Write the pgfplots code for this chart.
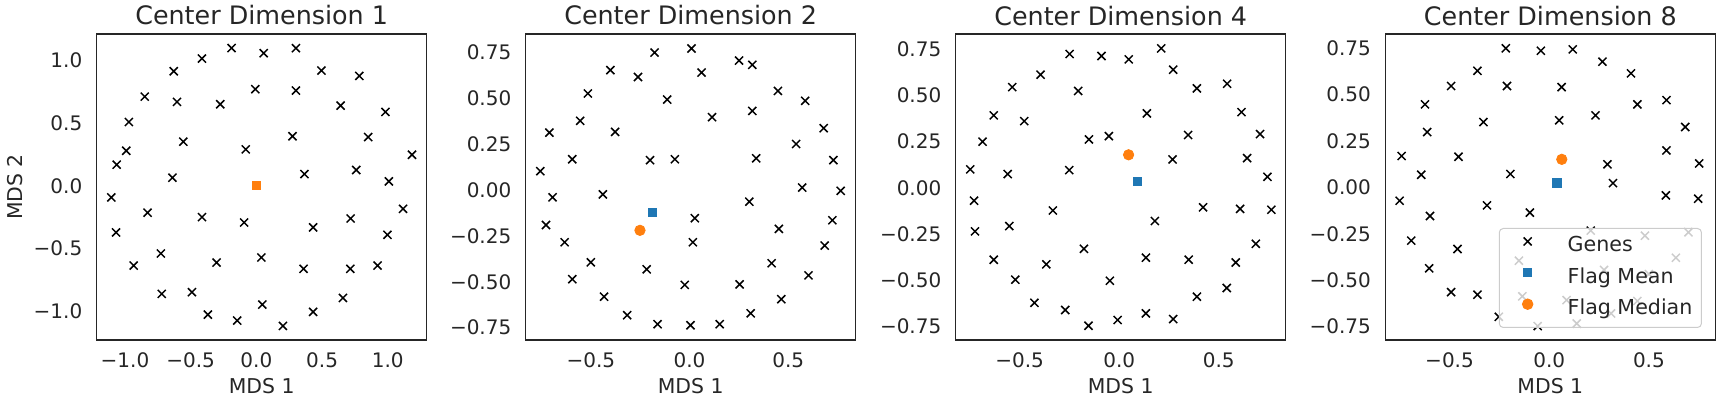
\documentclass[border=0pt]{standalone}
\usepackage{fontspec}
\setmainfont{DejaVu Sans}
\usepackage{pgfplots}
\pgfplotsset{compat=1.18}
\definecolor{tabblue}{HTML}{1F77B4}
\definecolor{taborange}{HTML}{FF7F0E}
\definecolor{txt}{HTML}{262626}
\pgfplotsset{
  mdsaxis/.style={
    scale only axis, width=165pt, height=153pt, anchor=south west,
    axis line style={txt, line width=0.6pt},
    major tick length=0pt,
    tick style={draw=none},
    ticklabel style={font=\fontsize{10}{12}\selectfont, text=txt},
    yticklabel style={xshift=-3.67pt},
    xticklabel style={yshift=-2.7pt},
    label style={font=\fontsize{10.2}{12}\selectfont, text=txt},
    xlabel={MDS 1},
    xlabel style={at={(axis description cs:0.5,-0.1503)}, anchor=center},
    every axis title/.style={font=\fontsize{12.7}{15}\selectfont, text=txt, at={(axis description cs:0.5,1)}, anchor=base, yshift=4.5pt},
    clip=false,
  },
  smallticks/.style={
    xtick={-0.5,0,0.5}, xticklabels={−0.5,0.0,0.5},
    ytick={-0.75,-0.5,-0.25,0,0.25,0.5,0.75},
    yticklabels={−0.75,−0.50,−0.25,0.00,0.25,0.50,0.75},
  },
  myleg/.style={legend image code/.code={\path[draw=none,fill=none] (0pt,-0.5pt) rectangle (1pt,0.5pt); \draw[##1] plot[only marks] coordinates {(13pt,2.6pt)};}},
  genes/.style={only marks, mark=x, mark size=2.85pt, black, mark options={line width=0.75pt}, myleg},
  fmean/.style={only marks, mark=square*, mark size=2.1pt, tabblue, myleg},
  fmedian/.style={only marks, mark=*, mark size=2.6pt, taborange, myleg},
}
\begin{document}
\begin{tikzpicture}
\useasboundingbox (0,0) rectangle (862pt,200pt);
% ---------------- Panel 1
\begin{axis}[mdsaxis, at={(48.35pt,30pt)},
  title={Center Dimension 1},
  xmin=-1.215, xmax=1.296, ymin=-1.229, ymax=1.209,
  xtick={-1,-0.5,0,0.5,1}, xticklabels={−1.0,−0.5,0.0,0.5,1.0},
  ytick={-1,-0.5,0,0.5,1}, yticklabels={−1.0,−0.5,0.0,0.5,1.0},
  ylabel={MDS 2},
  ylabel style={at={(axis description cs:-0.2476,0.5)}, anchor=center},
]
\addplot[genes] coordinates {
(-0.189,1.097) (0.056,1.056) (0.301,1.096) (-0.414,1.013) (-0.629,0.912) (0.495,0.918) (0.783,0.875) (-0.849,0.710) (-0.604,0.668) (-0.275,0.649) (-0.008,0.769) (0.301,0.758) (0.641,0.638) (0.982,0.588) (-0.970,0.508) (-0.556,0.351) (0.275,0.394) (0.851,0.388) (-0.990,0.279) (-0.081,0.290) (1.184,0.247) (-1.063,0.168) (-0.639,0.064) (0.366,0.093) (0.760,0.125) (1.008,0.035) (-1.104,-0.093) (-0.828,-0.215) (-0.414,-0.250) (-0.093,-0.293) (1.116,-0.184) (0.717,-0.261) (0.432,-0.332) (-1.068,-0.372) (0.997,-0.391) (-0.727,-0.540) (-0.303,-0.612) (0.038,-0.572) (-0.934,-0.636) (0.359,-0.662) (0.715,-0.662) (0.922,-0.636) (-0.720,-0.862) (-0.490,-0.848) (0.659,-0.894) (0.045,-0.947) (0.432,-1.005) (-0.369,-1.027) (-0.146,-1.074) (0.202,-1.117)
};
\addplot[fmean] coordinates {(0.0,0.005)};
\addplot[fmedian, mark=square*, mark size=2.1pt] coordinates {(0.0,0.005)};
\end{axis}
% ---------------- Panel 2
\begin{axis}[mdsaxis, smallticks, at={(262.85pt,30pt)},
  title={Center Dimension 2},
  xmin=-0.830, xmax=0.842, ymin=-0.817, ymax=0.849,
]
\addplot[genes] coordinates {
(0.010,0.770) (-0.177,0.748) (0.251,0.704) (0.318,0.681) (-0.401,0.652) (-0.261,0.615) (0.061,0.639) (0.448,0.539) (-0.515,0.525) (0.586,0.485) (-0.113,0.492) (0.318,0.430) (0.114,0.396) (-0.554,0.376) (0.680,0.336) (-0.710,0.312) (-0.377,0.316) (0.540,0.250) (-0.594,0.167) (-0.200,0.162) (-0.074,0.167) (0.338,0.172) (0.729,0.162) (-0.756,0.102) (0.571,0.013) (0.766,-0.005) (-0.694,-0.040) (-0.439,-0.024) (0.303,-0.064) (0.027,-0.154) (0.724,-0.165) (-0.727,-0.191) (0.453,-0.212) (-0.633,-0.285) (0.017,-0.285) (0.685,-0.303) (-0.500,-0.394) (0.416,-0.399) (-0.217,-0.432) (-0.594,-0.486) (0.603,-0.465) (-0.024,-0.517) (0.254,-0.514) (-0.433,-0.581) (0.465,-0.595) (-0.316,-0.682) (0.310,-0.672) (-0.162,-0.731) (0.005,-0.737) (0.153,-0.731)
};
\addplot[fmean] coordinates {(-0.189,-0.122)};
\addplot[fmedian] coordinates {(-0.251,-0.220)};
\end{axis}
% ---------------- Panel 3
\begin{axis}[mdsaxis, smallticks, at={(477.85pt,30pt)},
  title={Center Dimension 4},
  xmin=-0.821, xmax=0.836, ymin=-0.823, ymax=0.831,
]
\addplot[genes] coordinates {
(0.211,0.753) (-0.249,0.723) (-0.089,0.712) (0.048,0.694) (0.271,0.638) (-0.395,0.611) (0.542,0.562) (-0.537,0.544) (0.390,0.537) (-0.206,0.523) (0.614,0.409) (0.139,0.402) (-0.630,0.391) (-0.477,0.360) (0.707,0.290) (0.346,0.285) (-0.052,0.279) (-0.152,0.261) (-0.686,0.249) (0.642,0.160) (0.268,0.153) (-0.748,0.099) (-0.251,0.095) (-0.560,0.074) (0.744,0.059) (-0.729,-0.070) (-0.333,-0.123) (0.421,-0.106) (0.607,-0.114) (0.764,-0.119) (0.179,-0.180) (-0.724,-0.236) (-0.552,-0.207) (0.686,-0.303) (-0.177,-0.330) (-0.630,-0.389) (-0.366,-0.414) (0.134,-0.378) (0.349,-0.389) (0.585,-0.404) (-0.522,-0.497) (-0.047,-0.503) (0.540,-0.542) (0.390,-0.589) (-0.426,-0.622) (-0.271,-0.661) (0.134,-0.679) (0.271,-0.710) (-0.008,-0.715) (-0.154,-0.746)
};
\addplot[fmean] coordinates {(0.092,0.034)};
\addplot[fmedian] coordinates {(0.047,0.178)};
\end{axis}
% ---------------- Panel 4
\begin{axis}[mdsaxis, smallticks, at={(692.65pt,30pt)},
  title={Center Dimension 8},
  xmin=-0.822, xmax=0.833, ymin=-0.822, ymax=0.826,
  legend image post style={fill opacity=1, draw opacity=1},
  legend cell align=left,
  legend style={at={(1,0)}, anchor=south east, xshift=-6.7pt, yshift=6pt,
    fill=white, fill opacity=0.8, draw opacity=1, text opacity=1,
    draw=black!20, rounded corners=2pt, line width=0.5pt,
    font=\fontsize{10.3}{12}\selectfont, text=txt,
    inner xsep=1.2pt, inner ysep=1.2pt, row sep=0pt, column sep=0pt,
    nodes={inner xsep=3.3pt, inner ysep=3pt, text height=7.4pt, text depth=2.3pt}},
]
\addplot[genes] coordinates {
(-0.218,0.749) (-0.042,0.736) (0.118,0.743) (0.267,0.677) (-0.360,0.628) (0.410,0.614) (-0.492,0.546) (-0.212,0.546) (0.062,0.540) (-0.623,0.447) (0.442,0.447) (0.588,0.470) (0.232,0.388) (-0.330,0.352) (0.050,0.361) (-0.612,0.298) (0.682,0.325) (0.588,0.199) (-0.740,0.169) (-0.455,0.165) (0.292,0.124) (0.752,0.129) (-0.642,0.068) (-0.195,0.072) (0.320,0.023) (0.585,-0.043) (0.747,-0.061) (-0.750,-0.072) (-0.312,-0.097) (-0.097,-0.136) (-0.598,-0.154) (-0.692,-0.287) (-0.460,-0.332) (-0.602,-0.436) (-0.492,-0.564) (-0.360,-0.578) (0.208,-0.233) (0.480,-0.260) (0.698,-0.242) (-0.152,-0.395) (0.635,-0.379) (0.275,-0.445) (0.500,-0.467) (-0.135,-0.587) (0.087,-0.607) (0.442,-0.612) (0.310,-0.679) (-0.253,-0.697) (-0.058,-0.747) (0.138,-0.733)
};
\addlegendentry{\hspace*{14.1pt}Genes}
\addplot[fmean] coordinates {(0.038,0.025)};
\addlegendentry{\hspace*{14.1pt}Flag Mean}
\addplot[fmedian] coordinates {(0.063,0.151)};
\addlegendentry{\hspace*{14.1pt}Flag Median}
\end{axis}
\end{tikzpicture}
\end{document}
